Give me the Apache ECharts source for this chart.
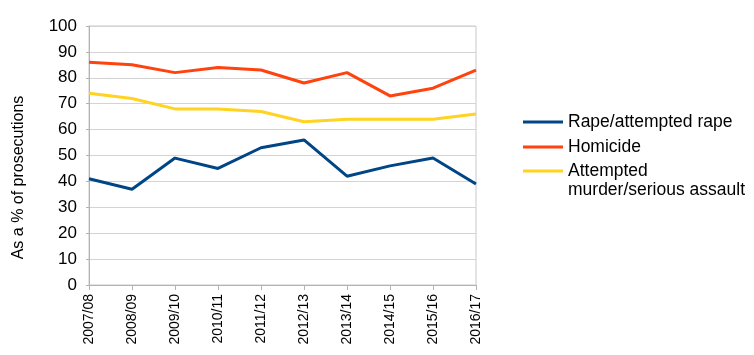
<!DOCTYPE html>
<html><head><meta charset="utf-8">
<script src="https://cdn.jsdelivr.net/npm/echarts@6/dist/echarts.min.js"></script>
<style>html,body{margin:0;padding:0;background:#fff}#c{width:754px;height:355px}</style>
</head><body><div id="c"></div>
<script>
const categories = ['2007/08','2008/09','2009/10','2010/11','2011/12','2012/13','2013/14','2014/15','2015/16','2016/17'];
const rape = [41,37,49,45,53,56,42,46,49,39];
const homicide = [86,85,82,84,83,78,82,73,76,83];
const attempted = [74,72,68,68,67,63,64,64,64,66];
const seriesNames = ['Rape/attempted rape','Homicide','Attempted\nmurder/serious assault'];
const yTicks = {min:0, max:100, interval:10};

const chart = echarts.init(document.getElementById('c'));
const font = 'Liberation Sans, Arial, sans-serif';
const icon = 'path://M0,6L40,6L40,9L0,9Z';
function line(name, data, color){
  return {name, type:'line', data, symbol:'none', smooth:false,
    lineStyle:{color, width:3}, itemStyle:{color}};
}
const legendText = {fontSize:17.5, color:'#000', fontFamily:font, lineHeight:19};
chart.setOption({
  animation:false,
  grid:{left:89, right:278, top:26, bottom:70, show:true, borderColor:'#c8c8c8', borderWidth:1},
  xAxis:{type:'category', data:categories, boundaryGap:false,
    axisLine:{lineStyle:{color:'#b3b3b3'}},
    axisTick:{show:true, length:5, alignWithLabel:true, lineStyle:{color:'#b3b3b3'}},
    axisLabel:{rotate:90, fontSize:14, color:'#000', fontFamily:font, margin:9, interval:0},
    splitLine:{show:false}},
  yAxis:{type:'value', min:yTicks.min, max:yTicks.max, interval:yTicks.interval,
    name:'As a % of prosecutions', nameLocation:'middle', nameGap:62,
    nameTextStyle:{fontSize:16, color:'#000', fontFamily:font, padding:[0,44,0,0]},
    axisLine:{show:true, lineStyle:{color:'#b3b3b3'}},
    axisTick:{show:true, length:3, lineStyle:{color:'#b3b3b3'}},
    axisLabel:{fontSize:17, color:'#000', fontFamily:font, margin:12},
    splitLine:{lineStyle:{color:'#d4d4d4'}}},
  legend:[
    {orient:'vertical', left:518, top:107.5, itemWidth:40, itemHeight:14, itemGap:6,
     textStyle:legendText,
     data:[{name:seriesNames[0], icon}, {name:seriesNames[1], icon}]},
    {orient:'vertical', left:518, top:137.5, itemWidth:40, itemHeight:14, itemGap:6,
     textStyle:legendText, formatter: n => '\n' + n,
     data:[{name:seriesNames[2], icon}]}
  ],
  series:[
    line(seriesNames[0], rape, '#004586'),
    line(seriesNames[1], homicide, '#ff420e'),
    line(seriesNames[2], attempted, '#ffd320')
  ]
});
</script></body></html>
